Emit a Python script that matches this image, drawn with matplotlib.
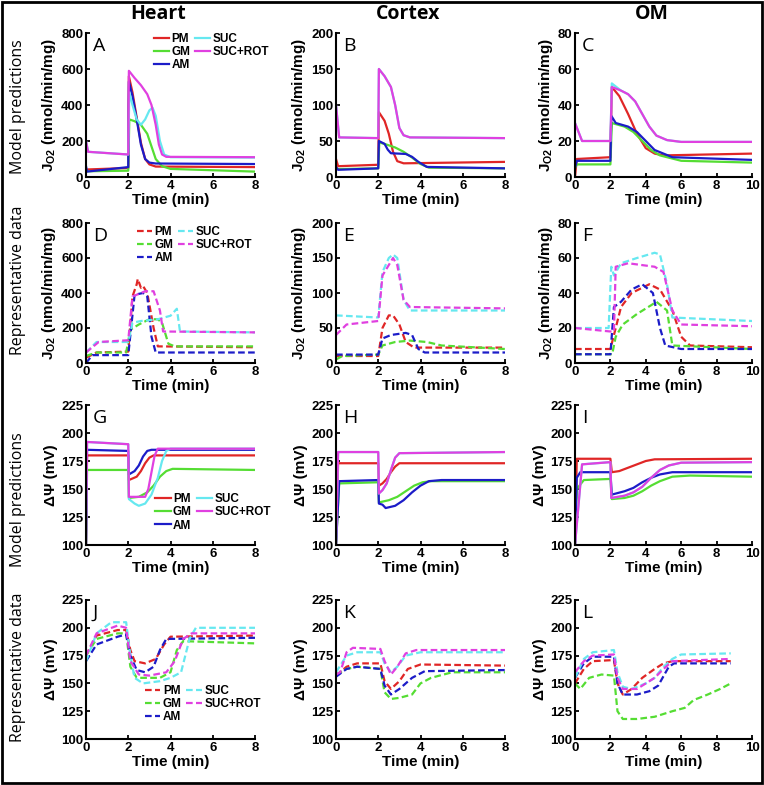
import matplotlib
matplotlib.use("Agg")
from matplotlib import pyplot as plt
from matplotlib.patches import Rectangle

# series names and colours
labels = ["PM", "GM", "AM", "SUC", "SUC+ROT"]
colors = ["#e02626", "#55dd33", "#1c1cc8", "#66e8f0", "#e040e0"]

# ---- A: heart, model, JO2 ----
a_pm = [(0, 40), (0.1, 42), (2, 50), (2.03, 560), (2.2, 470), (2.4, 330), (2.6, 190), (2.8, 100), (3.0, 70), (3.3, 58), (8, 55)]
a_gm = [(0, 30), (0.1, 32), (2, 35), (2.05, 320), (2.3, 310), (2.6, 290), (2.9, 240), (3.1, 170), (3.3, 100), (3.6, 60), (4, 45), (8, 30)]
a_am = [(0, 60), (0.05, 30), (2, 55), (2.03, 530), (2.2, 450), (2.4, 320), (2.6, 180), (2.8, 100), (3.0, 80), (3.3, 75), (8, 72)]
a_suc = [(0, 200), (0.1, 140), (2, 125), (2.05, 470), (2.2, 400), (2.4, 320), (2.6, 290), (2.8, 320), (3.0, 370), (3.15, 385), (3.3, 340), (3.5, 200), (3.7, 125), (4, 110), (8, 108)]
a_sucrot = [(0, 200), (0.1, 140), (2, 125), (2.03, 590), (2.3, 550), (2.6, 510), (2.9, 460), (3.1, 400), (3.3, 290), (3.45, 180), (3.6, 125), (3.8, 112), (8, 110)]

# ---- B: cortex, model, JO2 ----
b_pm = [(0, 25), (0.1, 15), (2, 17), (2.03, 90), (2.3, 78), (2.5, 60), (2.7, 35), (2.9, 22), (3.2, 19), (8, 21)]
b_gm = [(0, 12), (0.1, 11), (2, 12), (2.05, 48), (2.4, 45), (2.8, 41), (3.2, 35), (3.6, 27), (4.0, 18), (4.4, 13), (8, 12)]
b_am = [(0, 14), (0.1, 10), (2, 12), (2.03, 50), (2.3, 46), (2.45, 38), (2.6, 33), (3.3, 32), (3.6, 28), (3.9, 21), (4.3, 14), (8, 12)]
b_suc = [(0, 100), (0.15, 55), (2, 54), (2.03, 150), (2.3, 140), (2.6, 125), (2.8, 100), (3.0, 68), (3.2, 58), (3.5, 55), (8, 54)]
b_sucrot = [(0, 100), (0.15, 55), (2, 54), (2.03, 150), (2.3, 140), (2.6, 125), (2.8, 100), (3.0, 68), (3.2, 58), (3.5, 55), (8, 54)]

# ---- C: OM, model, JO2 ----
c_pm = [(0, 0), (0.1, 10), (2, 11), (2.08, 50), (2.5, 45), (3.0, 35), (3.5, 24), (4.0, 16), (4.5, 13), (5, 12), (10, 13)]
c_gm = [(0, 5), (0.1, 7), (2, 7), (2.08, 30), (2.8, 28), (3.3, 25), (3.8, 20), (4.3, 15), (4.8, 12), (6, 9), (10, 8)]
c_am = [(0, 5), (0.1, 9), (2, 9), (2.05, 34), (2.3, 30), (3.0, 28), (3.5, 25), (4.0, 20), (4.5, 15), (5.5, 11), (10, 9.5)]
c_suc = [(0, 30), (0.4, 20), (2, 20), (2.08, 52), (2.6, 48), (3.0, 46), (3.4, 42), (3.8, 35), (4.2, 28), (4.6, 23), (5.2, 20.5), (6, 19.5), (10, 19.5)]
c_sucrot = [(0, 30), (0.4, 20), (2, 20), (2.08, 50), (2.6, 48), (3.0, 46), (3.4, 42), (3.8, 35), (4.2, 28), (4.6, 23), (5.2, 20.5), (6, 19.5), (10, 19.5)]

# ---- D: heart, data, JO2 ----
d_pm = [(0, 30), (0.5, 60), (2, 65), (2.2, 380), (2.4, 450), (2.45, 480), (2.6, 430), (2.7, 440), (2.9, 400), (3.2, 200), (3.4, 95), (8, 90)]
d_gm = [(0, 40), (0.5, 60), (1.9, 60), (2.1, 190), (2.5, 220), (3.0, 250), (3.4, 250), (3.6, 230), (3.9, 110), (4.2, 95), (8, 95)]
d_am = [(0, 0), (0.3, 45), (2.0, 45), (2.3, 390), (2.7, 400), (2.9, 380), (3.1, 150), (3.3, 60), (8, 60)]
d_suc = [(0, 60), (0.5, 120), (2, 120), (2.2, 230), (2.6, 240), (3.4, 250), (4.0, 270), (4.3, 310), (4.45, 180), (8, 175)]
d_sucrot = [(0, 60), (0.6, 120), (2, 130), (2.2, 380), (2.8, 410), (3.2, 410), (3.5, 300), (3.65, 180), (8, 175)]

# ---- E: cortex, data, JO2 ----
e_pm = [(0, 10), (2, 10), (2.2, 50), (2.5, 68), (2.7, 68), (3.0, 55), (3.3, 30), (3.7, 22), (8, 22)]
e_gm = [(0, 5), (0.3, 10), (2, 12), (2.2, 25), (2.8, 30), (3.5, 32), (4.3, 30), (5, 25), (8, 20)]
e_am = [(0, 12), (2, 12), (2.2, 35), (2.6, 40), (3.3, 43), (3.6, 40), (3.9, 20), (4.2, 15), (8, 15)]
e_suc = [(0, 68), (2, 65), (2.2, 130), (2.5, 150), (2.7, 155), (2.9, 150), (3.2, 90), (3.5, 75), (8, 75)]
e_sucrot = [(0, 40), (0.5, 55), (2, 60), (2.2, 125), (2.6, 145), (2.7, 150), (2.9, 140), (3.2, 90), (3.5, 80), (8, 78)]

# ---- F: OM, data, JO2 ----
f_pm = [(0, 8), (2, 8), (2.3, 20), (2.6, 32), (3.2, 40), (4.2, 45), (4.8, 42), (5.5, 30), (6.0, 15), (6.5, 10), (10, 9)]
f_gm = [(0, 5), (2.1, 5), (2.3, 15), (2.7, 22), (3.5, 28), (4.3, 33), (4.6, 35), (5.2, 30), (5.5, 10), (10, 8)]
f_am = [(0, 5), (2, 5), (2.2, 32), (2.6, 35), (3.2, 42), (3.8, 45), (4.4, 40), (4.8, 20), (5.1, 10), (6, 8), (10, 8)]
f_suc = [(0, 20), (1.9, 20), (2.05, 55), (2.2, 50), (2.6, 57), (3.5, 60), (4.5, 63), (4.8, 62), (5.2, 45), (5.5, 26), (10, 24)]
f_sucrot = [(0, 20), (2, 18), (2.2, 18), (2.3, 55), (3, 57), (4.5, 55), (5.0, 52), (5.5, 30), (6, 22), (10, 21)]

# ---- G: heart, model, membrane potential ----
g_pm = [(0, 100), (0.05, 180), (2, 180), (2.03, 158), (2.4, 161), (2.6, 166), (2.8, 173), (3.0, 178), (3.2, 180), (8, 180)]
g_gm = [(0, 100), (0.05, 167), (2, 167), (2.03, 142), (2.5, 143), (2.9, 147), (3.2, 153), (3.5, 161), (3.8, 166), (4.1, 168), (8, 167)]
g_am = [(0, 100), (0.05, 185), (2, 184), (2.03, 163), (2.3, 166), (2.5, 171), (2.7, 179), (2.9, 184), (3.1, 185), (8, 185)]
g_suc = [(0, 100), (0.05, 192), (2, 190), (2.03, 141), (2.3, 137), (2.5, 135), (2.8, 137), (3.1, 145), (3.4, 160), (3.6, 175), (3.8, 184), (4.0, 186), (8, 186)]
g_sucrot = [(0, 100), (0.05, 192), (2, 190), (2.03, 143), (2.8, 143), (2.95, 150), (3.1, 165), (3.25, 180), (3.4, 186), (8, 186)]

# ---- H: cortex, model, membrane potential ----
h_pm = [(0, 100), (0.1, 173), (2, 173), (2.03, 153), (2.2, 155), (2.4, 159), (2.6, 165), (2.8, 170), (3.0, 173), (8, 173)]
h_gm = [(0, 100), (0.15, 155), (2, 156), (2.03, 138), (2.5, 140), (2.9, 143), (3.3, 148), (3.7, 153), (4.1, 156), (4.5, 157), (8, 157)]
h_am = [(0, 100), (0.15, 157), (2, 158), (2.03, 137), (2.2, 136), (2.35, 133), (2.8, 135), (3.2, 140), (3.6, 147), (4.0, 153), (4.4, 157), (5, 158), (8, 158)]
h_suc = [(0, 100), (0.1, 183), (2, 183), (2.03, 146), (2.2, 149), (2.4, 155), (2.6, 167), (2.8, 178), (3.0, 182), (8, 183)]
h_sucrot = [(0, 100), (0.1, 183), (2, 183), (2.03, 146), (2.2, 149), (2.4, 155), (2.6, 167), (2.8, 178), (3.0, 182), (8, 183)]

# ---- I: OM, model, membrane potential ----
i_pm = [(0, 100), (0.1, 177), (2, 177), (2.08, 165), (2.5, 166), (3.0, 169), (3.5, 172), (4.0, 175), (4.5, 176.5), (10, 177)]
i_gm = [(0, 100), (0.1, 150), (0.5, 158), (2, 159), (2.08, 141), (2.8, 142), (3.3, 144), (3.8, 148), (4.3, 153), (4.8, 157), (5.5, 161), (6.5, 162), (10, 161)]
i_am = [(0, 100), (0.1, 160), (0.3, 165), (2, 165), (2.08, 145), (2.8, 148), (3.3, 151), (3.8, 156), (4.3, 160), (4.8, 163), (5.5, 165), (10, 165)]
i_suc = [(0, 100), (0.4, 172), (2, 174), (2.05, 142), (2.8, 144), (3.3, 147), (3.8, 152), (4.3, 160), (4.8, 167), (5.3, 171), (6, 173.5), (10, 174)]
i_sucrot = [(0, 100), (0.4, 172), (2, 174), (2.05, 142), (2.8, 144), (3.3, 147), (3.8, 152), (4.3, 160), (4.8, 167), (5.3, 171), (6, 173.5), (10, 174)]

# ---- J: heart, data, membrane potential ----
j_pm = [(0, 175), (0.5, 193), (1.5, 198), (1.9, 198), (2.1, 180), (2.3, 170), (2.8, 168), (3.3, 172), (3.7, 185), (4.0, 192), (8, 193)]
j_gm = [(0, 175), (0.5, 190), (1.5, 195), (1.9, 195), (2.1, 165), (2.4, 155), (3.5, 155), (4.0, 160), (4.3, 180), (4.6, 188), (8, 186)]
j_am = [(0, 170), (0.5, 185), (1.5, 192), (1.9, 194), (2.1, 175), (2.4, 162), (2.8, 160), (3.2, 165), (3.5, 180), (3.8, 190), (8, 191)]
j_suc = [(0, 170), (0.5, 195), (1.2, 205), (1.9, 205), (2.1, 175), (2.3, 155), (2.7, 150), (3.5, 152), (4.0, 155), (4.5, 160), (4.9, 190), (5.2, 200), (8, 200)]
j_sucrot = [(0, 175), (0.5, 195), (1.5, 202), (1.9, 200), (2.1, 170), (2.5, 158), (3, 157), (3.8, 160), (4.2, 170), (4.6, 190), (5, 195), (8, 195)]

# ---- K: cortex, data, membrane potential ----
k_pm = [(0, 157), (0.5, 165), (1, 168), (2.1, 168), (2.3, 152), (2.6, 145), (3.0, 152), (3.4, 163), (4, 167), (8, 166)]
k_gm = [(0, 158), (0.5, 163), (1, 165), (2.1, 163), (2.3, 142), (2.6, 136), (3.0, 137), (3.6, 140), (4.0, 150), (4.5, 155), (5.5, 160), (8, 160)]
k_am = [(0, 156), (0.5, 163), (1, 165), (2.1, 163), (2.3, 148), (2.6, 140), (3.0, 145), (3.6, 155), (4.2, 161), (8, 162)]
k_suc = [(0, 160), (0.5, 175), (1, 178), (2.1, 178), (2.3, 168), (2.6, 160), (2.9, 165), (3.3, 175), (4, 178), (8, 178)]
k_sucrot = [(0, 158), (0.2, 160), (0.5, 178), (0.8, 182), (2.1, 181), (2.3, 170), (2.6, 158), (2.9, 165), (3.3, 177), (3.8, 180), (8, 180)]

# ---- L: OM, data, membrane potential ----
l_pm = [(0, 150), (0.5, 163), (1, 170), (2.2, 171), (2.4, 150), (2.7, 140), (3.2, 145), (3.8, 155), (4.5, 163), (5.0, 168), (5.5, 170), (8.8, 170)]
l_gm = [(0, 150), (0.3, 145), (0.8, 155), (1.5, 158), (2.2, 157), (2.4, 125), (2.7, 118), (3.5, 118), (4.5, 120), (5.5, 125), (6.2, 128), (6.7, 135), (7.5, 140), (8.2, 145), (8.8, 150)]
l_am = [(0, 155), (0.5, 168), (1, 174), (2.2, 174), (2.4, 150), (2.7, 140), (3.5, 140), (4.2, 143), (4.7, 148), (5.3, 165), (5.6, 168), (8.8, 168)]
l_suc = [(0, 155), (0.5, 172), (1, 178), (2.2, 180), (2.4, 160), (2.7, 147), (3.2, 145), (4.0, 150), (4.5, 155), (5.0, 165), (5.5, 172), (6, 176), (8.8, 177)]
l_sucrot = [(0, 160), (0.5, 170), (1, 175), (2.2, 176), (2.4, 155), (2.7, 145), (3.5, 145), (4.0, 150), (4.5, 155), (5.0, 163), (5.5, 170), (8.8, 172)]

col_titles = ["Heart", "Cortex", "OM"]
row_titles = ["Model predictions", "Representative data", "Model predictions", "Representative data"]
jo2_ticks = [[0, 200, 400, 600, 800], [0, 50, 100, 150, 200], [0, 20, 40, 60, 80]]
dpsi_ticks = [100, 125, 150, 175, 200, 225]
x_ticks = [[0, 2, 4, 6, 8], [0, 2, 4, 6, 8], [0, 2, 4, 6, 8, 10]]

panels = [
    ("A", [a_pm, a_gm, a_am, a_suc, a_sucrot]),
    ("B", [b_pm, b_gm, b_am, b_suc, b_sucrot]),
    ("C", [c_pm, c_gm, c_am, c_suc, c_sucrot]),
    ("D", [d_pm, d_gm, d_am, d_suc, d_sucrot]),
    ("E", [e_pm, e_gm, e_am, e_suc, e_sucrot]),
    ("F", [f_pm, f_gm, f_am, f_suc, f_sucrot]),
    ("G", [g_pm, g_gm, g_am, g_suc, g_sucrot]),
    ("H", [h_pm, h_gm, h_am, h_suc, h_sucrot]),
    ("I", [i_pm, i_gm, i_am, i_suc, i_sucrot]),
    ("J", [j_pm, j_gm, j_am, j_suc, j_sucrot]),
    ("K", [k_pm, k_gm, k_am, k_suc, k_sucrot]),
    ("L", [l_pm, l_gm, l_am, l_suc, l_sucrot]),
]

plt.rcParams['font.family'] = ['Liberation Sans', 'DejaVu Sans']
plt.rcParams['font.weight'] = 'bold'
plt.rcParams['axes.labelweight'] = 'bold'
plt.rcParams['mathtext.fontset'] = 'custom'
plt.rcParams['mathtext.rm'] = 'Liberation Sans:bold'
plt.rcParams['mathtext.bf'] = 'Liberation Sans:bold'

W, H = 764, 785
fig = plt.figure(figsize=(W / 100, H / 100), dpi=100)

# axes boxes in pixels
col_x = [(86, 255), (336, 505), (575, 752)]
row_y = [(33, 177), (223, 363), (405, 545), (600, 739)]

# legend anchors (axes fraction) for panels that carry a legend
legend_at = {"A": (0.40, 1.0), "D": (0.30, 0.98), "G": (0.41, 0.37), "J": (0.35, 0.39)}

for idx, (letter, series) in enumerate(panels):
    r, c = divmod(idx, 3)
    x0, x1 = col_x[c]
    y0, y1 = row_y[r]
    ax = fig.add_axes([x0 / W, 1 - y1 / H, (x1 - x0) / W, (y1 - y0) / H])
    data_row = r in (1, 3)
    for lab, col, pts in zip(labels, colors, series):
        t = [p[0] for p in pts]
        y = [p[1] for p in pts]
        if data_row:
            ax.plot(t, y, color=col, lw=1.6, ls=(0, (3, 1.5)), label=lab)
        else:
            ax.plot(t, y, color=col, lw=1.6, label=lab)

    ax.set_xlim(x_ticks[c][0], x_ticks[c][-1])
    ax.set_xticks(x_ticks[c])
    if r < 2:
        yt = jo2_ticks[c]
        ax.set_ylabel(r"J$_{\mathrm{O2}}$ (nmol/min/mg)", fontsize=11, labelpad=2)
    else:
        yt = dpsi_ticks
        ax.set_ylabel("ΔΨ (mV)", fontsize=11, labelpad=2)
    ax.set_ylim(yt[0], yt[-1])
    ax.set_yticks(yt)
    ax.set_xlabel("Time (min)", fontsize=11, labelpad=1)

    for s in ("top", "right"):
        ax.spines[s].set_visible(False)
    for s in ("left", "bottom"):
        ax.spines[s].set_linewidth(1.5)
    ax.tick_params(direction='in', length=3, width=1.3, labelsize=9.5, pad=2)

    ax.text(0.04, 0.97, letter, transform=ax.transAxes, fontsize=14, fontweight='normal',
            family=['Open Sans', 'DejaVu Sans'], va='top', ha='left')

    if letter in legend_at:
        ax.legend(loc='upper left', bbox_to_anchor=legend_at[letter], ncol=2,
                  frameon=False, handlelength=1.3, handletextpad=0.2,
                  columnspacing=0.4, labelspacing=0.1, borderpad=0, borderaxespad=0,
                  prop={'weight': 'bold', 'size': 8.5})

# column titles
for c, name in enumerate(col_titles):
    fig.text(((col_x[c][0] + col_x[c][1]) / 2 - 12) / W, 1 - 14 / H, name,
             ha='center', va='center', fontsize=14, fontweight='bold',
             family=['Open Sans', 'DejaVu Sans'])

# row titles on the far left
row_centers = [107, 280, 500, 667]
for name, yc in zip(row_titles, row_centers):
    fig.text(18 / W, 1 - yc / H, name, rotation=90, ha='center', va='center',
             fontsize=11.5, fontweight='normal', family=['Open Sans', 'DejaVu Sans'])

fig.patches.append(Rectangle((0.002, 0.002), 0.996, 0.996, transform=fig.transFigure,
                             fill=False, lw=2, edgecolor='black'))

fig.savefig("out.png", dpi=100)
